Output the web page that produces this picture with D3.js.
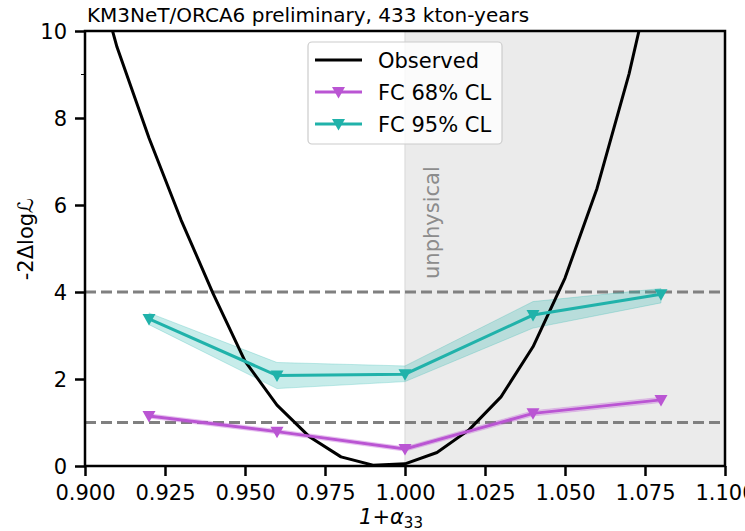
<!DOCTYPE html>
<html>
<head>
<meta charset="utf-8">
<script src="https://cdn.jsdelivr.net/npm/d3@7"></script>
<style>
  html, body { margin: 0; padding: 0; background: #fff; }
  svg { display: block; font-family: "DejaVu Sans", sans-serif; }
</style>
</head>
<body>
<svg id="chart" width="745" height="531"></svg>
<script>
// Observed likelihood scan, 1+alpha33 grid
const obsX = [0.90, 0.91, 0.92, 0.93, 0.94, 0.95, 0.96, 0.97, 0.98, 0.99, 1.00,
              1.01, 1.02, 1.03, 1.04, 1.05, 1.06, 1.07, 1.08];
const obsY = [12.3, 9.63, 7.54, 5.66, 3.97, 2.41, 1.40, 0.68, 0.21, 0.02, 0.05,
              0.31, 0.83, 1.59, 2.74, 4.32, 6.38, 9.01, 12.2];

// Feldman-Cousins critical values
const fcX = [0.92, 0.96, 1.00, 1.04, 1.08];
const fc68 = [1.15, 0.79, 0.39, 1.21, 1.52];
const fc68Lo = [1.10, 0.74, 0.34, 1.15, 1.46];
const fc68Hi = [1.20, 0.84, 0.44, 1.27, 1.58];
const fc95 = [3.38, 2.08, 2.11, 3.47, 3.95];
const fc95Lo = [3.25, 1.78, 1.94, 3.17, 3.75];
const fc95Hi = [3.52, 2.38, 2.30, 3.78, 4.08];

// Reference levels (1 and 2 sigma, 1 dof)
const refLevels = [1, 4];

const xTicks = [0.900, 0.925, 0.950, 0.975, 1.000, 1.025, 1.050, 1.075, 1.100];
const yTicks = [0, 2, 4, 6, 8, 10];

const titleText = "KM3NeT/ORCA6 preliminary, 433 kton-years";
const legendLabels = ["Observed", "FC 68% CL", "FC 95% CL"];

const colObs = "#000000";
const col68 = "#ba55d3";
const col95 = "#20b2aa";
const colRef = "#808080";

const svg = d3.select("#chart");
const m = { left: 85, right: 20, top: 31, bottom: 65 };
const W = 745, H = 531;

const x = d3.scaleLinear().domain([0.9, 1.1]).range([m.left, W - m.right]);
const y = d3.scaleLinear().domain([0, 10]).range([H - m.bottom, m.top]);

svg.append("defs").append("clipPath").attr("id", "plotclip")
  .append("rect")
  .attr("x", x(0.9)).attr("y", y(10))
  .attr("width", x(1.1) - x(0.9)).attr("height", y(0) - y(10));

const plot = svg.append("g").attr("clip-path", "url(#plotclip)");

// unphysical region
plot.append("rect")
  .attr("x", x(1.0)).attr("y", y(10))
  .attr("width", x(1.1) - x(1.0)).attr("height", y(0) - y(10))
  .attr("fill", "#ebebeb");
plot.append("line")
  .attr("x1", x(1.0)).attr("x2", x(1.0))
  .attr("y1", y(10)).attr("y2", y(0))
  .attr("stroke", "#dcdcdc").attr("stroke-width", 1.2);

plot.append("text")
  .attr("transform", `translate(${x(1.0) + 34},${y(4.3)}) rotate(-90)`)
  .attr("text-anchor", "start")
  .attr("font-size", 21)
  .attr("fill", "#8c8c8c")
  .text("unphysical");

// horizontal reference lines
plot.selectAll("line.ref").data(refLevels).join("line")
  .attr("class", "ref")
  .attr("x1", x(0.9)).attr("x2", x(1.1))
  .attr("y1", d => y(d)).attr("y2", d => y(d))
  .attr("stroke", colRef).attr("stroke-width", 3)
  .attr("stroke-dasharray", "11,5");

// FC bands
const band = (lo, hi) => d3.area()
  .x((d, i) => x(fcX[i]))
  .y0((d, i) => y(lo[i]))
  .y1((d, i) => y(hi[i]))(fcX);

plot.append("path").attr("d", band(fc95Lo, fc95Hi))
  .attr("fill", col95).attr("fill-opacity", 0.25)
  .attr("stroke", col95).attr("stroke-opacity", 0.25).attr("stroke-width", 1);
plot.append("path").attr("d", band(fc68Lo, fc68Hi))
  .attr("fill", col68).attr("fill-opacity", 0.25)
  .attr("stroke", col68).attr("stroke-opacity", 0.25).attr("stroke-width", 1);

// observed scan
const obsLine = d3.line().x((d, i) => x(obsX[i])).y(d => y(d));
plot.append("path").attr("d", obsLine(obsY))
  .attr("fill", "none").attr("stroke", colObs).attr("stroke-width", 3)
  .attr("stroke-linejoin", "round");

// FC lines with down-triangle markers
const fcLine = d3.line().x((d, i) => x(fcX[i])).y(d => y(d));
const tri = "M-6.5,-5 L6.5,-5 L0,6.5 Z";
[[fc68, col68], [fc95, col95]].forEach(([vals, col]) => {
  plot.append("path").attr("d", fcLine(vals))
    .attr("fill", "none").attr("stroke", col).attr("stroke-width", 3);
  plot.selectAll(null).data(vals).join("path")
    .attr("d", tri)
    .attr("transform", (d, i) => `translate(${x(fcX[i])},${y(d)})`)
    .attr("fill", col);
});

// axes
const xAxis = d3.axisBottom(x).tickValues(xTicks).tickFormat(d3.format(".3f"))
  .tickSize(10).tickPadding(9);
const yAxis = d3.axisLeft(y).tickValues(yTicks).tickFormat(d3.format("d"))
  .tickSize(10).tickPadding(8);

const gx = svg.append("g").attr("transform", `translate(0,${y(0)})`).call(xAxis);
const gy = svg.append("g").attr("transform", `translate(${x(0.9)},0)`).call(yAxis);
[gx, gy].forEach(g => {
  g.select(".domain").remove();
  g.selectAll(".tick line").attr("stroke", "#000").attr("stroke-width", 2.5);
  g.selectAll(".tick text").attr("font-size", 21).attr("fill", "#000")
    .attr("font-family", "DejaVu Sans, sans-serif");
});
gy.selectAll(".tick text").attr("dy", "0.36em");

// stray minor tick on the y axis
svg.append("line")
  .attr("x1", x(0.9) - 4).attr("x2", x(0.9))
  .attr("y1", y(9)).attr("y2", y(9))
  .attr("stroke", "#000").attr("stroke-width", 1);

// frame
svg.append("rect")
  .attr("x", x(0.9)).attr("y", y(10))
  .attr("width", x(1.1) - x(0.9)).attr("height", y(0) - y(10))
  .attr("fill", "none").attr("stroke", "#000").attr("stroke-width", 2.5);

// title
svg.append("text")
  .attr("x", x(0.9) + 2).attr("y", 22)
  .attr("font-size", 20).attr("fill", "#000")
  .text(titleText);

// axis labels
const xl = svg.append("text")
  .attr("x", 391).attr("y", 524)
  .attr("text-anchor", "middle").attr("font-size", 21).attr("fill", "#000");
xl.append("tspan").attr("font-style", "italic").text("1+α");
xl.append("tspan").attr("font-size", 15).attr("dy", 4).text("33");

const yl = svg.append("text")
  .attr("transform", `translate(33,239) rotate(-90)`)
  .attr("text-anchor", "middle").attr("font-size", 21).attr("fill", "#000");
yl.append("tspan").text("-2Δlog");
yl.append("tspan").attr("font-style", "italic").text("ℒ");

// legend
const lg = svg.append("g");
lg.append("rect")
  .attr("x", 308).attr("y", 42).attr("width", 194).attr("height", 102)
  .attr("rx", 4).attr("fill", "#fff").attr("fill-opacity", 0.8)
  .attr("stroke", "#cccccc").attr("stroke-width", 1.2);
const legendCols = [colObs, col68, col95];
const legendY = [60, 92, 124];
legendLabels.forEach((lab, i) => {
  const ly = legendY[i];
  lg.append("line").attr("x1", 315).attr("x2", 362).attr("y1", ly).attr("y2", ly)
    .attr("stroke", legendCols[i]).attr("stroke-width", 3);
  if (i > 0) {
    lg.append("path").attr("d", tri)
      .attr("transform", `translate(338.5,${ly})`).attr("fill", legendCols[i]);
  }
  lg.append("text").attr("x", 378).attr("y", ly).attr("dy", "0.36em")
    .attr("font-size", 21).attr("fill", "#000").text(lab);
});
</script>
</body>
</html>
